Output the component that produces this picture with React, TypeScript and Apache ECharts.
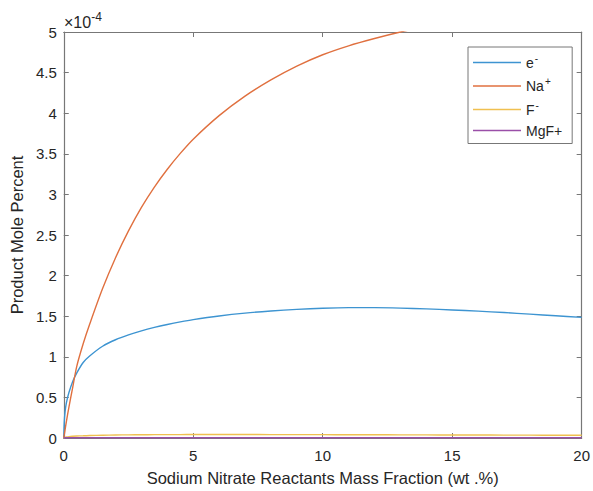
import React, { useEffect, useRef } from "react";
import * as echarts from "echarts";

// Sodium nitrate mass fraction (wt.%) sample points
const massFraction = [0, 0.02, 0.05, 0.1, 0.2, 0.35, 0.5, 0.75, 1, 1.5, 2, 2.5, 3, 3.5, 4, 4.5, 5, 6, 7, 8, 9, 10, 11, 12, 13, 14, 15, 16, 17, 18, 19, 20];

// Product mole percent, in units of 1e-4
const electron = [0, 0.2, 0.32, 0.43, 0.56, 0.7, 0.8, 0.93, 1.01, 1.13, 1.21, 1.27, 1.32, 1.362, 1.398, 1.43, 1.458, 1.503, 1.538, 1.564, 1.584, 1.598, 1.605, 1.605, 1.6, 1.59, 1.577, 1.562, 1.545, 1.525, 1.505, 1.485];
const sodium = [0, 0.04, 0.1, 0.2, 0.38, 0.63, 0.88, 1.16, 1.4, 1.84, 2.22, 2.55, 2.84, 3.09, 3.31, 3.505, 3.68, 3.97, 4.21, 4.41, 4.58, 4.72, 4.83, 4.92, 5.0, 5.07, 5.13, 5.19, 5.24, 5.29, 5.33, 5.37];
const fluoride = [0, 0.004, 0.008, 0.012, 0.017, 0.021, 0.024, 0.027, 0.03, 0.034, 0.037, 0.039, 0.04, 0.041, 0.042, 0.042, 0.043, 0.043, 0.043, 0.042, 0.042, 0.041, 0.04, 0.04, 0.039, 0.038, 0.037, 0.037, 0.036, 0.035, 0.034, 0.034];
const mgf = [0, 0.002, 0.003, 0.003, 0.003, 0.003, 0.003, 0.003, 0.003, 0.003, 0.003, 0.003, 0.003, 0.003, 0.003, 0.003, 0.003, 0.003, 0.003, 0.003, 0.003, 0.003, 0.003, 0.003, 0.003, 0.003, 0.003, 0.003, 0.003, 0.003, 0.003, 0.003];

const seriesNames = ["e-", "Na+", "F-", "MgF+"];
const seriesColors = ["#3d94d1", "#e0703f", "#f0c050", "#9a4fa8"];
const seriesValues = [electron, sodium, fluoride, mgf];

// legend labels with superscript charges
const legendRich: Record<string, string> = {
  "e-": "{b|e}{s|-}",
  "Na+": "{b|Na}{s|+}",
  "F-": "{b|F}{s|-}",
  "MgF+": "{b|MgF+}",
};

const FONT = "'Liberation Sans', Arial, sans-serif";
const AXIS_GRAY = "#777";
const TEXT = "#262626";

export default function App() {
  const ref = useRef<HTMLDivElement>(null);

  useEffect(() => {
    if (!ref.current) return;
    const chart = echarts.init(ref.current, undefined, { renderer: "svg" });

    const tickCommon = { show: true, inside: true, length: 5, lineStyle: { color: AXIS_GRAY } };
    const lineCommon = { show: true, onZero: false, lineStyle: { color: AXIS_GRAY, width: 1.2 } };

    chart.setOption({
      animation: false,
      backgroundColor: "#fff",
      textStyle: { fontFamily: FONT },
      grid: { left: 63, right: 9, top: 32, bottom: 48, containLabel: false },
      legend: {
        orient: "vertical",
        left: 468,
        top: 47,
        width: 101,
        padding: [6, 10, 6, 5],
        itemGap: 7,
        itemWidth: 48,
        itemHeight: 1.5,
        icon: "rect",
        backgroundColor: "#fff",
        borderColor: AXIS_GRAY,
        borderWidth: 1,
        data: seriesNames,
        formatter: (name: string) => legendRich[name] ?? name,
        textStyle: {
          color: TEXT,
          fontFamily: FONT,
          fontSize: 14,
          rich: {
            b: { fontSize: 14, color: TEXT, fontFamily: FONT },
            s: { fontSize: 10, color: TEXT, fontFamily: FONT, padding: [0, 0, 9, 1] },
          },
        },
      },
      xAxis: [
        {
          type: "value",
          min: 0,
          max: 20,
          interval: 5,
          position: "bottom",
          name: "Sodium Nitrate Reactants Mass Fraction (wt .%)",
          nameLocation: "middle",
          nameGap: 31,
          nameTextStyle: { fontSize: 16.5, color: TEXT, fontFamily: FONT },
          axisLine: lineCommon,
          axisTick: tickCommon,
          axisLabel: { fontSize: 15, color: TEXT, margin: 10, fontFamily: FONT },
          splitLine: { show: false },
        },
        {
          type: "value",
          min: 0,
          max: 20,
          interval: 5,
          position: "top",
          axisLine: lineCommon,
          axisTick: tickCommon,
          axisLabel: { show: false },
          splitLine: { show: false },
        },
      ],
      yAxis: [
        {
          type: "value",
          min: 0,
          max: 5,
          interval: 0.5,
          position: "left",
          name: "Product Mole Percent",
          nameLocation: "middle",
          nameGap: 30,
          nameTextStyle: { fontSize: 16.5, color: TEXT, fontFamily: FONT },
          axisLine: lineCommon,
          axisTick: tickCommon,
          axisLabel: { fontSize: 15, color: TEXT, margin: 7, fontFamily: FONT },
          splitLine: { show: false },
        },
        {
          type: "value",
          min: 0,
          max: 5,
          interval: 0.5,
          position: "right",
          axisLine: lineCommon,
          axisTick: tickCommon,
          axisLabel: { show: false },
          splitLine: { show: false },
        },
      ],
      graphic: [
        {
          type: "text",
          left: 64,
          top: 11,
          style: {
            text: "{a|×10}{b|-4}",
            fill: TEXT,
            fontSize: 16,
            fontFamily: FONT,
            rich: {
              a: { fontSize: 16, fontFamily: FONT, fill: TEXT },
              b: { fontSize: 12, fontFamily: FONT, fill: TEXT, padding: [0, 0, 11, 0] },
            },
          },
        },
      ],
      series: seriesNames.map((name, i) => ({
        name,
        type: "line",
        xAxisIndex: 0,
        yAxisIndex: 0,
        symbol: "none",
        smooth: 0.3,
        clip: true,
        color: seriesColors[i],
        lineStyle: { width: 1.4, color: seriesColors[i] },
        data: massFraction.map((x, j) => [x, seriesValues[i][j]]),
      })),
    });

    return () => chart.dispose();
  }, []);

  return <div ref={ref} style={{ width: 593, height: 491, position: "absolute", left: 0, top: 0 }} />;
}
